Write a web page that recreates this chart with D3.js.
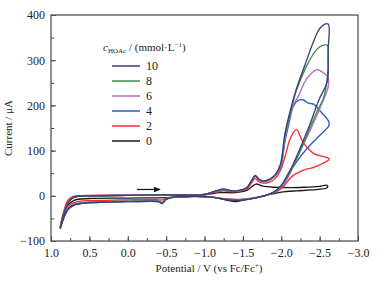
<!DOCTYPE html>
<html lang="en">
<head>
<meta charset="UTF-8">
<title>CV curves</title>
<script src="https://d3js.org/d3.v7.min.js"></script>
<style>
  body { margin: 0; background: #fff; }
  svg { font-family: "Liberation Serif", "DejaVu Serif", serif; }
  .axis path, .axis line { stroke: #444; }
  .axis text { fill: #222; font-size: 12px; font-family: "Liberation Serif", serif; }
  .cv { fill: none; stroke-width: 1.35; }
</style>
</head>
<body>
<svg width="379" height="284"></svg>
<script>
// concentrations (legend order) and colours
const concs = ['10', '8', '6', '4', '2', '0'];
const colors = { '10': '#3d3f7e', '8': '#3f8f45', '6': '#b468c6', '4': '#2c5cc2', '2': '#ff2a2a', '0': '#1a1a1a' };

const xTicks = [1.0, 0.5, 0.0, -0.5, -1.0, -1.5, -2.0, -2.5, -3.0];
const yTicks = [-100, 0, 100, 200, 300, 400];

// [potential V, current µA], forward scan then reverse scan
const cv10 = [[0.88,-73],[0.84,-45],[0.78,-17],[0.72,-5],[0.65,-1],[0.5,0],[0.0,1],[-0.5,2],[-1.0,3],[-1.15,11],[-1.25,15],[-1.35,11],[-1.45,12],[-1.55,18],[-1.62,36],[-1.66,45],[-1.71,37],[-1.77,33],[-1.85,37],[-1.92,46],[-1.99,70],[-2.05,139],[-2.12,190],[-2.2,238],[-2.31,290],[-2.42,341],[-2.51,372],[-2.61,380],
  [-2.61,320],[-2.6,253],[-2.49,212],[-2.38,161],[-2.2,87],[-2.12,58],[-1.99,21],[-1.9,8],[-1.8,1],[-1.65,-5],[-1.45,-10],[-1.3,-9],[-1.1,-3],[-0.9,-1],[-0.6,-3],[-0.5,-8],[-0.45,-17],[-0.4,-13],[-0.3,-12],[0.0,-13],[0.3,-14],[0.55,-16],[0.7,-20],[0.78,-30],[0.84,-52],[0.88,-73]];
const cv8 = [[0.88,-72],[0.84,-44],[0.78,-16],[0.72,-5],[0.65,-1],[0.5,0],[0.0,1],[-0.5,2],[-1.0,3],[-1.15,11],[-1.25,14],[-1.35,11],[-1.45,12],[-1.55,18],[-1.62,35],[-1.66,44],[-1.71,36],[-1.77,32],[-1.85,36],[-1.92,45],[-1.99,68],[-2.05,135],[-2.12,185],[-2.2,234],[-2.36,297],[-2.47,325],[-2.53,332],[-2.6,333],
  [-2.61,300],[-2.6,262],[-2.55,216],[-2.49,195],[-2.38,153],[-2.2,82],[-2.1,50],[-1.99,20],[-1.9,8],[-1.8,1],[-1.65,-5],[-1.45,-9],[-1.3,-8],[-1.1,-3],[-0.9,-1],[-0.6,-3],[-0.5,-7],[-0.45,-15],[-0.4,-12],[-0.3,-12],[0.0,-12],[0.3,-13],[0.55,-15],[0.7,-19],[0.78,-29],[0.84,-50],[0.88,-72]];
const cv6 = [[0.88,-72],[0.84,-44],[0.78,-16],[0.72,-5],[0.65,-1],[0.5,0],[0.0,1],[-0.5,2],[-1.0,3],[-1.15,10],[-1.25,13],[-1.35,10],[-1.45,11],[-1.55,17],[-1.62,34],[-1.66,43],[-1.71,35],[-1.77,32],[-1.85,36],[-1.92,45],[-1.99,65],[-2.05,128],[-2.15,198],[-2.23,223],[-2.31,253],[-2.4,272],[-2.47,279],[-2.55,272],[-2.61,262],
  [-2.61,240],[-2.57,220],[-2.51,196],[-2.38,146],[-2.25,100],[-2.14,62],[-2.03,25],[-1.92,9],[-1.8,1],[-1.65,-5],[-1.45,-9],[-1.3,-8],[-1.1,-3],[-0.9,-1],[-0.6,-3],[-0.5,-7],[-0.45,-14],[-0.4,-12],[-0.3,-11],[0.0,-12],[0.3,-13],[0.55,-15],[0.7,-19],[0.78,-28],[0.84,-50],[0.88,-72]];
const cv4 = [[0.88,-73],[0.84,-45],[0.78,-16],[0.72,-5],[0.65,-1],[0.5,0],[0.0,1],[-0.5,2],[-1.0,3],[-1.15,10],[-1.25,13],[-1.35,10],[-1.45,11],[-1.55,17],[-1.62,34],[-1.66,43],[-1.71,35],[-1.77,31],[-1.85,35],[-1.92,44],[-1.99,62],[-2.05,122],[-2.1,160],[-2.16,199],[-2.22,211],[-2.29,212],[-2.35,205],[-2.42,203],[-2.51,187],[-2.62,164],
  [-2.62,155],[-2.51,135],[-2.38,113],[-2.25,87],[-2.16,65],[-2.03,25],[-1.92,9],[-1.8,1],[-1.65,-5],[-1.45,-9],[-1.3,-8],[-1.1,-3],[-0.9,-1],[-0.6,-3],[-0.5,-8],[-0.45,-16],[-0.4,-13],[-0.3,-12],[0.0,-13],[0.3,-14],[0.55,-16],[0.7,-21],[0.78,-31],[0.84,-52],[0.88,-73]];
const cv2 = [[0.88,-68],[0.84,-38],[0.78,-10],[0.72,-2],[0.65,0],[0.5,1],[0.0,1],[-0.5,2],[-1.0,3],[-1.15,8],[-1.25,11],[-1.35,9],[-1.45,10],[-1.55,15],[-1.62,30],[-1.66,38],[-1.71,31],[-1.77,28],[-1.85,30],[-1.92,38],[-1.99,56],[-2.05,87],[-2.12,128],[-2.2,147],[-2.25,130],[-2.29,117],[-2.42,94],[-2.52,88],[-2.62,83],
  [-2.62,80],[-2.51,69],[-2.4,62],[-2.29,57],[-2.14,43],[-2.03,21],[-1.95,10],[-1.8,1],[-1.65,-4],[-1.45,-8],[-1.3,-7],[-1.1,-3],[-0.9,-1],[-0.6,-3],[-0.5,-6],[-0.45,-9],[-0.3,-8],[0.0,-9],[0.3,-10],[0.55,-11],[0.7,-15],[0.78,-24],[0.84,-45],[0.88,-68]];
const cv0 = [[0.88,-70],[0.84,-42],[0.78,-15],[0.72,-4],[0.65,-1],[0.5,0],[0.0,1],[-0.5,1],[-1.0,2],[-1.2,7],[-1.4,7],[-1.55,12],[-1.63,22],[-1.67,26],[-1.75,22],[-1.9,19],[-2.1,18],[-2.3,19],[-2.5,21],[-2.6,23],
  [-2.6,18],[-2.4,13],[-2.2,11],[-2.0,8],[-1.85,3],[-1.7,-3],[-1.5,-10],[-1.4,-13],[-1.3,-10],[-1.1,-3],[-0.8,-2],[-0.5,-4],[0.0,-5],[0.5,-6],[0.7,-10],[0.8,-25],[0.88,-70]];

const curves = { '10': cv10, '8': cv8, '6': cv6, '4': cv4, '2': cv2, '0': cv0 };

const svg = d3.select('svg');
const margin = { top: 15, right: 21, bottom: 43, left: 51 };
const width = 379 - margin.left - margin.right;
const height = 284 - margin.top - margin.bottom;
const g = svg.append('g').attr('transform', `translate(${margin.left},${margin.top})`);

const x = d3.scaleLinear().domain([1.0, -3.0]).range([0, width]);
const y = d3.scaleLinear().domain([-100, 400]).range([height, 0]);

const fmtX = d => d3.format('.1f')(d).replace('-', '\u2212');
const fmtY = d => String(d).replace('-', '\u2212');

// minor ticks
g.append('g').attr('class', 'axis')
  .attr('transform', `translate(0,${height})`)
  .call(d3.axisBottom(x).tickValues(d3.range(1.0, -3.01, -0.25)).tickSize(-3).tickFormat(''))
  .call(a => a.select('.domain').remove());
g.append('g').attr('class', 'axis')
  .call(d3.axisLeft(y).tickValues(d3.range(-100, 401, 50)).tickSize(-3).tickFormat(''))
  .call(a => a.select('.domain').remove());

// major ticks
g.append('g').attr('class', 'axis')
  .attr('transform', `translate(0,${height})`)
  .call(d3.axisBottom(x).tickValues(xTicks).tickSize(-5).tickPadding(7).tickFormat(fmtX))
  .call(a => a.select('.domain').remove());
g.append('g').attr('class', 'axis')
  .call(d3.axisLeft(y).tickValues(yTicks).tickSize(-5).tickPadding(6).tickFormat(fmtY))
  .call(a => a.select('.domain').remove());

// frame
g.append('rect')
  .attr('width', width).attr('height', height)
  .attr('fill', 'none').attr('stroke', '#555').attr('stroke-width', 1.3);

// curves
const line = d3.line()
  .x(d => x(d[0])).y(d => y(d[1]))
  .curve(d3.curveCatmullRom.alpha(0.5));

g.selectAll('.cv')
  .data(concs.slice().reverse())
  .enter().append('path')
  .attr('class', 'cv')
  .attr('stroke', d => colors[d])
  .attr('d', d => line(curves[d]));

// scan direction arrow
svg.append('defs').append('marker')
  .attr('id', 'arr').attr('viewBox', '0 0 10 10')
  .attr('refX', 9).attr('refY', 5)
  .attr('markerWidth', 6).attr('markerHeight', 6)
  .attr('orient', 'auto')
  .append('path').attr('d', 'M0,1 L10,5 L0,9 Z').attr('fill', '#111');
g.append('line')
  .attr('x1', x(-0.12)).attr('x2', x(-0.42))
  .attr('y1', y(14)).attr('y2', y(14))
  .attr('stroke', '#111').attr('stroke-width', 1.2)
  .attr('marker-end', 'url(#arr)');

// legend
const legend = svg.append('g').attr('transform', 'translate(112,0)');
const title = legend.append('text').attr('x', -9).attr('y', 51).attr('font-size', 11).attr('fill', '#222');
title.append('tspan').attr('font-style', 'italic').text('c');
title.append('tspan').attr('font-size', 7).attr('dy', 2).text('HOAc');
title.append('tspan').attr('dy', -2).text(' / (mmol\u00b7L');
title.append('tspan').attr('font-size', 7).attr('dy', -4).text('\u22121');
title.append('tspan').attr('dy', 4).text(')');

concs.forEach((c, i) => {
  const yy = 66 + i * 15;
  legend.append('line').attr('x1', 0).attr('x2', 28).attr('y1', yy).attr('y2', yy)
    .attr('stroke', colors[c]).attr('stroke-width', 1.5);
  legend.append('text').attr('x', 34).attr('y', yy + 4).attr('font-size', 12).attr('fill', '#222').text(c);
});

// axis titles
svg.append('text')
  .attr('transform', `translate(12,${margin.top + height / 2}) rotate(-90)`)
  .attr('text-anchor', 'middle').attr('font-size', 11).attr('fill', '#222')
  .text('Current / \u03bcA');
const xl = svg.append('text')
  .attr('x', 209).attr('y', 272)
  .attr('text-anchor', 'middle').attr('font-size', 11).attr('fill', '#222');
xl.append('tspan').text('Potential / V (vs Fc/Fc');
xl.append('tspan').attr('font-size', 7).attr('dy', -4).text('+');
xl.append('tspan').attr('dy', 4).text(')');
</script>
</body>
</html>
